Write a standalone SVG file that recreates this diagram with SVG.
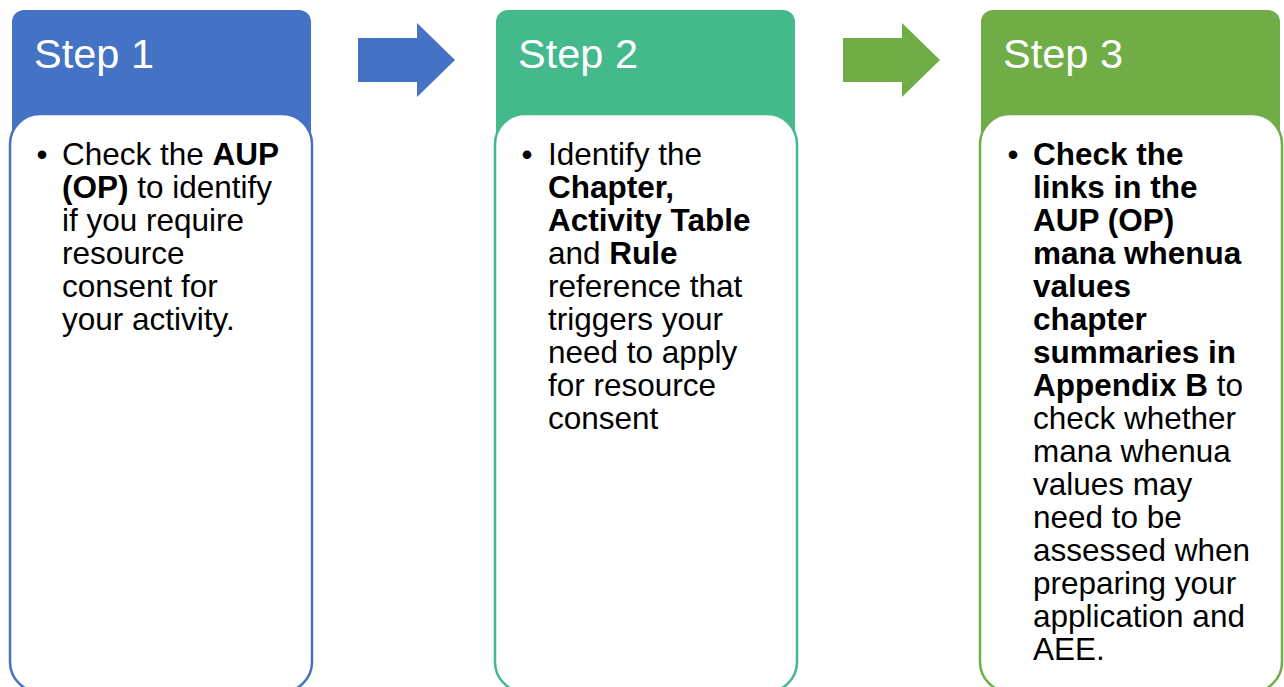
<svg xmlns="http://www.w3.org/2000/svg" width="1284" height="687" viewBox="0 0 1284 687">
<style>
.hdr{font-family:"Liberation Sans",Arial,sans-serif;font-size:41.5px;fill:#fff}
.body{font-family:"Liberation Sans",Arial,sans-serif;font-size:31.5px;fill:#000}
.b{font-weight:bold}
.card{fill:#fff;stroke-width:2.5}
</style>
<rect width="1284" height="687" fill="#fff"/>
<g id="connectors">
<polygon points="358,38 417,38 417,23 455,60 417,97 417,82 358,82" fill="#4472C4"/>
<polygon points="843,38 902,38 902,23 940,60 902,97 902,82 843,82" fill="#70AD47"/>
</g>
<g id="step1">
<rect x="12" y="10" width="299" height="160" rx="12" fill="#4472C4"/>
<text class="hdr" x="34" y="68">Step 1</text>
<rect class="card" x="10" y="114" width="302" height="578" rx="30" stroke="#4472C4"/>
<text class="body" x="42" y="165" text-anchor="middle">•</text>
<text class="body" x="62" y="165">Check the <tspan class="b">AUP</tspan></text>
<text class="body" x="62" y="198"><tspan class="b">(OP)</tspan> to identify</text>
<text class="body" x="62" y="231">if you require</text>
<text class="body" x="62" y="264">resource</text>
<text class="body" x="62" y="297">consent for</text>
<text class="body" x="62" y="330">your activity.</text>
</g>
<g id="step2">
<rect x="496" y="10" width="299" height="160" rx="12" fill="#44B98C"/>
<text class="hdr" x="518" y="68">Step 2</text>
<rect class="card" x="495" y="114" width="302" height="578" rx="30" stroke="#44B98C"/>
<text class="body" x="527" y="165" text-anchor="middle">•</text>
<text class="body" x="548" y="165">Identify the</text>
<text class="body b" x="548" y="198">Chapter,</text>
<text class="body b" x="548" y="231">Activity Table</text>
<text class="body" x="548" y="264">and <tspan class="b">Rule</tspan></text>
<text class="body" x="548" y="297">reference that</text>
<text class="body" x="548" y="330">triggers your</text>
<text class="body" x="548" y="363">need to apply</text>
<text class="body" x="548" y="396">for resource</text>
<text class="body" x="548" y="429">consent</text>
</g>
<g id="step3">
<rect x="981" y="10" width="299" height="160" rx="12" fill="#70AD47"/>
<text class="hdr" x="1003" y="68">Step 3</text>
<rect class="card" x="980" y="114" width="302" height="578" rx="30" stroke="#70AD47"/>
<text class="body" x="1013" y="165" text-anchor="middle">•</text>
<text class="body b" x="1033" y="165">Check the</text>
<text class="body b" x="1033" y="198">links in the</text>
<text class="body b" x="1033" y="231">AUP (OP)</text>
<text class="body b" x="1033" y="264">mana whenua</text>
<text class="body b" x="1033" y="297">values</text>
<text class="body b" x="1033" y="330">chapter</text>
<text class="body b" x="1033" y="363">summaries in</text>
<text class="body" x="1033" y="396"><tspan class="b">Appendix B</tspan> to</text>
<text class="body" x="1033" y="429">check whether</text>
<text class="body" x="1033" y="462">mana whenua</text>
<text class="body" x="1033" y="495">values may</text>
<text class="body" x="1033" y="528">need to be</text>
<text class="body" x="1033" y="561">assessed when</text>
<text class="body" x="1033" y="594">preparing your</text>
<text class="body" x="1033" y="627">application and</text>
<text class="body" x="1033" y="660">AEE.</text>
</g>
</svg>
